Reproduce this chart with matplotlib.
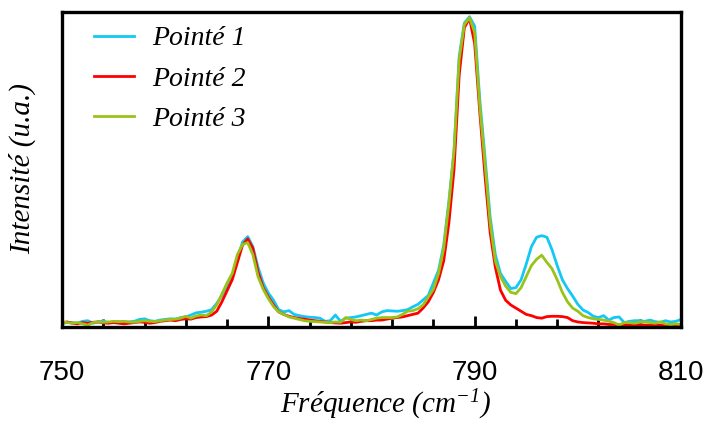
import matplotlib
matplotlib.use("Agg")
import matplotlib.pyplot as plt
import numpy as np

plt.rcParams["mathtext.fontset"] = "custom"
plt.rcParams["mathtext.rm"] = "Liberation Serif:italic"
plt.rcParams["mathtext.it"] = "Liberation Serif:italic"

# Raman shift, 0.5 cm-1 step from 750 to 810
freq = np.arange(750, 810.5, 0.5)

pointe1 = [
    0.010, 0.015, 0.014, 0.012, 0.018, 0.020, 0.012, 0.016, 0.019, 0.014,
    0.016, 0.017, 0.015, 0.016, 0.018, 0.024, 0.026, 0.020, 0.018, 0.022,
    0.024, 0.026, 0.025, 0.030, 0.032, 0.038, 0.045, 0.047, 0.050, 0.055,
    0.075, 0.100, 0.130, 0.160, 0.215, 0.270, 0.287, 0.255, 0.190, 0.140,
    0.108, 0.085, 0.055, 0.048, 0.052, 0.040, 0.036, 0.033, 0.031, 0.030,
    0.028, 0.018, 0.020, 0.038, 0.018, 0.028, 0.030, 0.032, 0.036, 0.040,
    0.044, 0.038, 0.048, 0.052, 0.051, 0.050, 0.052, 0.055, 0.064, 0.072,
    0.086, 0.100, 0.140, 0.180, 0.260, 0.400, 0.560, 0.860, 0.965, 0.985,
    0.955, 0.720, 0.540, 0.350, 0.230, 0.170, 0.145, 0.122, 0.125, 0.150,
    0.200, 0.255, 0.285, 0.290, 0.285, 0.245, 0.195, 0.150, 0.122, 0.098,
    0.072, 0.054, 0.046, 0.034, 0.030, 0.036, 0.022, 0.030, 0.032, 0.014,
    0.018, 0.020, 0.020, 0.018, 0.022, 0.017, 0.015, 0.020, 0.016, 0.018,
    0.024,
]

pointe2 = [
    0.014, 0.016, 0.012, 0.010, 0.014, 0.012, 0.015, 0.016, 0.013, 0.012,
    0.014, 0.012, 0.010, 0.012, 0.014, 0.016, 0.015, 0.012, 0.014, 0.018,
    0.020, 0.022, 0.020, 0.024, 0.026, 0.025, 0.030, 0.032, 0.033, 0.038,
    0.050, 0.080, 0.115, 0.150, 0.205, 0.260, 0.280, 0.250, 0.175, 0.125,
    0.095, 0.070, 0.048, 0.040, 0.034, 0.030, 0.027, 0.025, 0.022, 0.020,
    0.018, 0.016, 0.014, 0.013, 0.012, 0.014, 0.016, 0.015, 0.018, 0.020,
    0.020, 0.022, 0.022, 0.025, 0.028, 0.030, 0.032, 0.036, 0.040, 0.044,
    0.060, 0.080, 0.110, 0.150, 0.210, 0.330, 0.500, 0.800, 0.950, 0.980,
    0.900, 0.680, 0.480, 0.300, 0.190, 0.117, 0.085, 0.070, 0.060, 0.050,
    0.040, 0.036, 0.030, 0.028, 0.033, 0.034, 0.034, 0.033, 0.030, 0.020,
    0.016, 0.014, 0.013, 0.012, 0.010, 0.010, 0.008, 0.008, 0.007, 0.007,
    0.006, 0.006, 0.007, 0.006, 0.005, 0.006, 0.005, 0.005, 0.006, 0.005,
    0.005,
]

pointe3 = [
    0.016, 0.014, 0.012, 0.014, 0.010, 0.006, 0.014, 0.016, 0.015, 0.016,
    0.018, 0.017, 0.018, 0.016, 0.015, 0.018, 0.020, 0.018, 0.017, 0.020,
    0.022, 0.024, 0.025, 0.028, 0.034, 0.028, 0.035, 0.038, 0.036, 0.048,
    0.070, 0.105, 0.140, 0.170, 0.230, 0.262, 0.268, 0.230, 0.160, 0.120,
    0.090, 0.065, 0.048, 0.040, 0.032, 0.028, 0.024, 0.020, 0.018, 0.017,
    0.016, 0.015, 0.014, 0.016, 0.015, 0.030, 0.024, 0.020, 0.022, 0.020,
    0.024, 0.028, 0.030, 0.030, 0.030, 0.032, 0.040, 0.050, 0.052, 0.058,
    0.070, 0.095, 0.120, 0.170, 0.250, 0.390, 0.560, 0.850, 0.960, 0.982,
    0.935, 0.700, 0.520, 0.330, 0.210, 0.160, 0.130, 0.110, 0.106, 0.125,
    0.160, 0.195, 0.215, 0.228, 0.205, 0.185, 0.150, 0.110, 0.080, 0.060,
    0.050, 0.036, 0.030, 0.026, 0.024, 0.022, 0.018, 0.014, 0.006, 0.014,
    0.014, 0.012, 0.015, 0.016, 0.014, 0.012, 0.016, 0.010, 0.008, 0.010,
    0.008,
]

labels = ["Pointé 1", "Pointé 2", "Pointé 3"]
colors = ["#14C8F5", "#FF0000", "#99C31A"]
major_ticks = [750, 770, 790, 810]
minor_ticks = list(range(754, 810, 4))

fig = plt.figure(figsize=(7.05, 4.26), dpi=100)
ax = fig.add_axes([62 / 705, 1 - 327 / 426, 619 / 705, 315 / 426])

for y, lab, c in zip([pointe1, pointe2, pointe3], labels, colors):
    ax.plot(freq, y, color=c, lw=2.0, label=lab)

ax.set_xlim(750, 810)
ax.set_ylim(0, 1)
ax.set_yticks([])
ax.set_xticks(major_ticks)
ax.set_xticks(minor_ticks, minor=True)
ax.tick_params(axis="x", which="major", direction="in", length=7.8, width=2,
               pad=24, labelsize=20)
ax.tick_params(axis="x", which="minor", direction="in", length=5.9, width=2)
for lbl in ax.get_xticklabels():
    lbl.set_family("Liberation Sans")
for sp in ax.spines.values():
    sp.set_linewidth(2.4)

serif_it = dict(family=["Liberation Serif", "DejaVu Serif"], style="italic")
fig.text(386 / 705, 1 - 405 / 426, "Fréquence (cm$^{-1}$)", ha="center",
         va="center", fontsize=21, **serif_it)
fig.text(22 / 705, 1 - 169 / 426, "Intensité (u.a.)", ha="center",
         va="center", rotation=90, fontsize=21, **serif_it)

leg = ax.legend(loc="upper left", bbox_to_anchor=((94 - 62) / 619, 1 - 14 / 315),
                frameon=False, borderpad=0, borderaxespad=0,
                handlelength=1.45, handletextpad=0.65, labelspacing=0.53,
                prop=dict(family="Liberation Serif", style="italic", size=20))

plt.savefig("out.png", dpi=100)
